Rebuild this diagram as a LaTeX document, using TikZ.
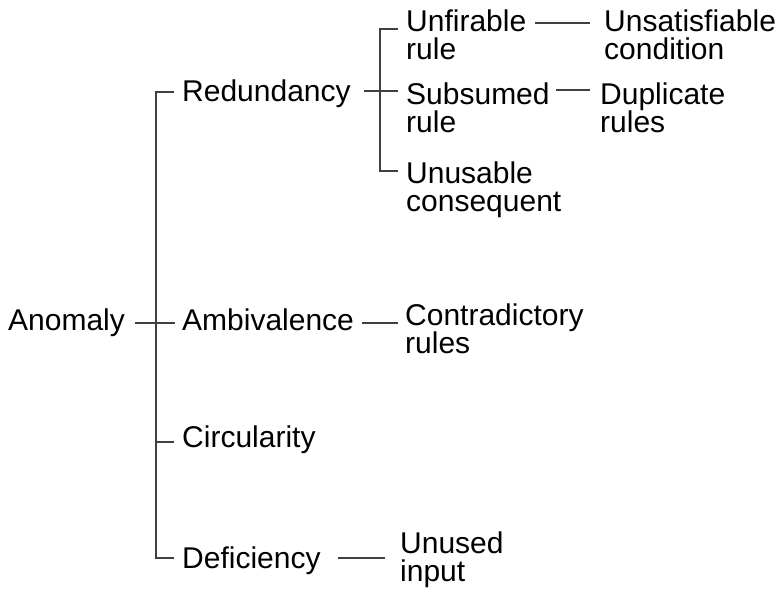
\documentclass[tikz,border=0pt]{standalone}
\usepackage{fontspec}
\setmainfont{Liberation Sans}

\begin{document}
\begin{tikzpicture}[x=1pt, y=-1pt, t/.style={inner sep=0pt, anchor=base west, align=left, font=\fontsize{30}{28}\selectfont}, l/.style={line width=1.3pt, black!75}]
		\useasboundingbox (0,0) rectangle (778,591);

		\node[t] (anomaly) at (8,330) {Anomaly};
		\node[t] (redundancy) at (182,102) {Redundancy};
		\node[t] (ambivalence) at (182,330) {Ambivalence};
		\node[t] (circularity) at (182,447) {Circularity};
		\node[t] (deficiency) at (182,568) {Deficiency};
		\node[t] (unfirable) at (406,60) {Unfirable\\rule};
		\node[t] (subsumed) at (406,132) {Subsumed\\rule};
		\node[t] (unusable) at (406,211) {Unusable\\consequent};
		\node[t] (unsatisfiable) at (604,60) {Unsatisfiable\\condition};
		\node[t] (duplicate) at (600,132) {Duplicate\\rules};
		\node[t] (contradictory) at (405,353) {Contradictory\\rules};
		\node[t] (unused) at (400,581) {Unused\\input};

		\draw[l] ([shift={(10,-7)}]anomaly.base east) -- ([shift={(-7,-7)}]ambivalence.base west);
		\draw[l] ([shift={(-8,-10)}]redundancy.base west) -- ++(-18,0) |- ([shift={(-8,-10)}]deficiency.base west);
		\draw[l] ([shift={(-8,-5)}]circularity.base west) -- ++(-18,0);

		\draw[l] ([shift={(13,-11)}]redundancy.base east) -- ([shift={(-8,-41)}]subsumed.base west);
		\draw[l] ([shift={(-8,-31)}]unfirable.base west) -- ++(-18,0) |- ([shift={(-8,-40)}]unusable.base west);
		\draw[l] ([shift={(9,-37)}]unfirable.base east) -- ([shift={(-14,-37)}]unsatisfiable.base west);
		\draw[l] ([shift={(6,-42)}]subsumed.base east) -- ([shift={(-10,-42)}]duplicate.base west);
		\draw[l] ([shift={(8,-7)}]ambivalence.base east) -- ([shift={(-7,-30)}]contradictory.base west);
		\draw[l] ([shift={(17,-10)}]deficiency.base east) -- ([shift={(-15,-23)}]unused.base west);
	\end{tikzpicture}
\end{document}
